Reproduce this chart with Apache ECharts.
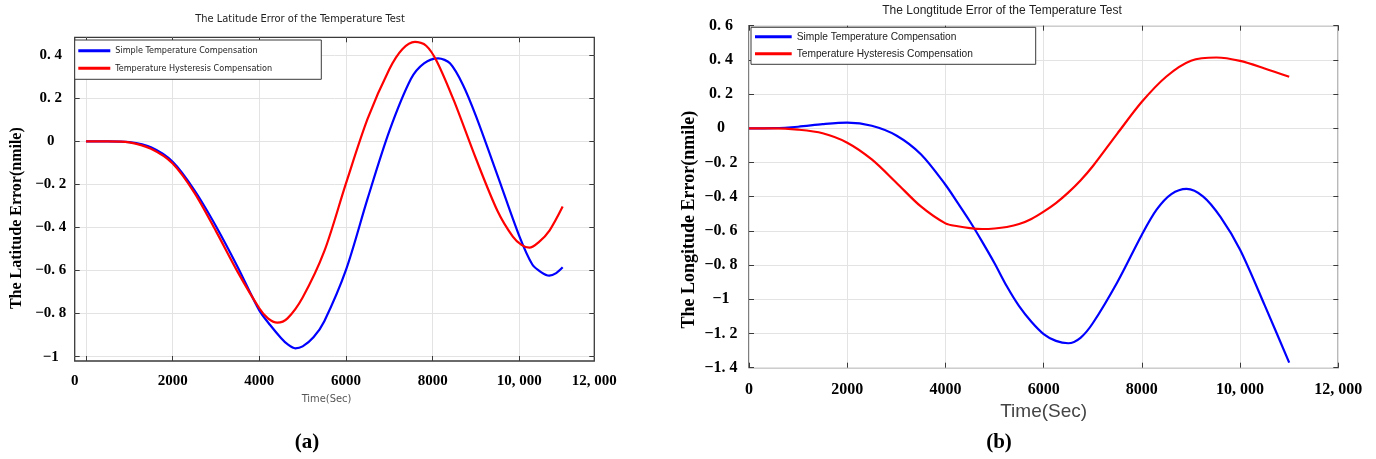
<!DOCTYPE html>
<html>
<head>
<meta charset="utf-8">
<title>Temperature Test Errors</title>
<script src="https://cdn.jsdelivr.net/npm/echarts@6/dist/echarts.min.js"></script>
<style>
html, body { margin: 0; padding: 0; background: #fff; }
#chart { width: 1376px; height: 459px; }
</style>
</head>
<body>
<div id="chart"></div>
<script>
// series names
const nameSimple = 'Simple Temperature Compensation';
const nameHyst = 'Temperature Hysteresis Compensation';

// (a) latitude error
const timeLatSimple = [0, 500, 1000, 1500, 2000, 2500, 3000, 3500, 4000, 4250, 4500, 4650, 4830, 5000, 5250, 5500,
  6000, 6500, 7000, 7500, 7800, 8130, 8400, 8700, 9000, 9500, 10000, 10300, 10500, 10690, 10850, 11000];
const latSimple = [0, 0, -0.004, -0.028, -0.095, -0.226, -0.394, -0.583, -0.785, -0.853, -0.913, -0.942, -0.961, -0.952, -0.91, -0.835,
  -0.597, -0.265, 0.047, 0.29, 0.362, 0.385, 0.362, 0.262, 0.117, -0.16, -0.44, -0.572, -0.607, -0.624, -0.612, -0.585];
const timeLatHyst = [0, 500, 1000, 1500, 2000, 2500, 3000, 3500, 4000, 4200, 4415, 4650, 5000, 5500, 6000,
  6500, 7000, 7300, 7590, 7850, 8100, 8500, 9000, 9500, 9850, 10050, 10230, 10450, 10700, 11000];
const latHyst = [0, 0, -0.005, -0.035, -0.103, -0.238, -0.417, -0.606, -0.775, -0.822, -0.842, -0.822, -0.725, -0.51, -0.195,
  0.105, 0.335, 0.428, 0.462, 0.444, 0.37, 0.184, -0.081, -0.325, -0.443, -0.481, -0.494, -0.468, -0.413, -0.303];

// (b) longitude error
const timeLonSimple = [0, 500, 1000, 1500, 2000, 2500, 3000, 3500, 4000, 4250, 4500, 4750, 5000, 5250, 5500, 5750,
  6000, 6250, 6500, 6750, 7000, 7500, 8000, 8300, 8600, 8910, 9250, 9600, 10000, 10500, 11000];
const lonSimple = [0, 0.001, 0.009, 0.024, 0.033, 0.015, -0.042, -0.152, -0.33, -0.436, -0.545, -0.664, -0.789, -0.924, -1.04, -1.131,
  -1.203, -1.243, -1.257, -1.225, -1.14, -0.9, -0.622, -0.476, -0.385, -0.354, -0.399, -0.518, -0.71, -1.034, -1.37];
const timeLonHyst = [0, 500, 1000, 1500, 2000, 2500, 3000, 3500, 4000, 4250, 4500, 4750, 5000, 5250, 5500, 5750,
  6000, 6250, 6500, 6750, 7000, 7500, 8000, 8500, 9000, 9520, 10000, 10500, 11000];
const lonHyst = [0, 0, -0.008, -0.029, -0.084, -0.182, -0.318, -0.457, -0.556, -0.573, -0.584, -0.589, -0.586, -0.577, -0.56, -0.53,
  -0.487, -0.437, -0.376, -0.305, -0.222, -0.031, 0.155, 0.303, 0.395, 0.414, 0.394, 0.35, 0.301];

// ticks
const xTicks = [0, 2000, 4000, 6000, 8000, 10000, 12000];
const yTicksA = [-1, -0.8, -0.6, -0.4, -0.2, 0, 0.2, 0.4];
const yTicksB = [-1.4, -1.2, -1, -0.8, -0.6, -0.4, -0.2, 0, 0.2, 0.4, 0.6];

// axis extents of panel (a) (the figure's axes are a bit off round numbers)
const xMinA = -260, xMaxA = 11730;
const yMinA = -1.02, yMaxA = 0.483;

function zip(xs, ys) {
  return xs.map((x, i) => [x, ys[i]]);
}

function fmtY(v) {
  if (Math.abs(v) < 1e-9) return '0';
  const s = Math.abs(v).toFixed(1).replace(/\.0$/, '').replace('.', '. ');
  return (v < 0 ? '\u2212' : '') + s;
}

function fmtX(v) {
  if (v <= 0) return '0';
  if (v > 11000) v = 12000;
  v = Math.round(v);
  if (v >= 10000) return Math.floor(v / 1000) + ', ' + String(v % 1000).padStart(3, '0');
  return String(v);
}

const narrow = "'Liberation Sans Narrow', 'DejaVu Sans Condensed', 'Liberation Sans', sans-serif";
const serifBold = { fontFamily: 'Liberation Serif', fontWeight: 'bold', color: '#000' };
const boxColor = '#3a3a3a';
const gridColor = '#e3e3e3';

function lineSeries(name, color, idx, data) {
  return {
    name: name,
    type: 'line',
    xAxisIndex: idx,
    yAxisIndex: idx,
    data: data,
    showSymbol: false,
    smooth: 0.3,
    itemStyle: { color: color },
    lineStyle: { color: color, width: 2.2 },
    z: 5
  };
}

function innerTicks(values) {
  return { show: true, inside: true, length: 5, customValues: values, lineStyle: { color: boxColor, width: 1 } };
}

const noLine = { show: false, onZero: false };

let chart = echarts.init(document.getElementById('chart'), null, { renderer: 'canvas' });

chart.setOption({
  animation: false,
  backgroundColor: '#fff',
  title: [
    {
      text: 'The Latitude Error of the Temperature Test',
      left: 300, top: 14, textAlign: 'center', padding: 0,
      textStyle: { fontFamily: narrow, fontSize: 11, fontWeight: 'normal', color: '#222' }
    },
    {
      text: 'The Longtitude Error of the Temperature Test',
      left: 1002, top: 5, textAlign: 'center', padding: 0,
      textStyle: { fontFamily: 'Liberation Sans', fontSize: 12, fontWeight: 'normal', color: '#222' }
    },
    {
      text: '{p|(}{b|a}{p|)}',
      left: 307, top: 432, textAlign: 'center', padding: 0,
      textStyle: {
        rich: {
          p: { fontFamily: 'Liberation Serif', fontSize: 21, color: '#000' },
          b: { fontFamily: 'Liberation Serif', fontSize: 21, fontWeight: 'bold', color: '#000' }
        }
      }
    },
    {
      text: '{p|(}{b|b}{p|)}',
      left: 999, top: 432, textAlign: 'center', padding: 0,
      textStyle: {
        rich: {
          p: { fontFamily: 'Liberation Serif', fontSize: 21, color: '#000' },
          b: { fontFamily: 'Liberation Serif', fontSize: 21, fontWeight: 'bold', color: '#000' }
        }
      }
    }
  ],
  legend: [
    {
      data: [nameSimple, nameHyst],
      orient: 'vertical',
      left: 74.7, top: 40,
      icon: 'rect', itemWidth: 32, itemHeight: 3, itemGap: 5.6,
      padding: [4.7, 6, 5, 3.6],
      backgroundColor: '#fff', borderColor: boxColor, borderWidth: 1,
      selectedMode: false,
      textStyle: { fontFamily: narrow, fontSize: 9, color: '#222', lineHeight: 12, width: 200 }
    },
    {
      data: [nameSimple, nameHyst],
      orient: 'vertical',
      left: 751, top: 27.3,
      icon: 'rect', itemWidth: 36.7, itemHeight: 3, itemGap: 5,
      padding: [3.4, 4, 4.6, 4],
      backgroundColor: '#fff', borderColor: boxColor, borderWidth: 1,
      selectedMode: false,
      textStyle: { fontFamily: 'Liberation Sans', fontSize: 10.2, color: '#222', lineHeight: 12, width: 235 }
    }
  ],
  grid: [
    { left: 74.7, top: 37.3, width: 519.6, height: 323.7, show: true, borderColor: boxColor, borderWidth: 1.3, backgroundColor: '#fff' },
    { left: 749, top: 25.7, width: 589.3, height: 342, show: true, borderColor: boxColor, borderWidth: 1.3, backgroundColor: '#fff' }
  ],
  xAxis: [
    {
      gridIndex: 0, type: 'value', min: xMinA, max: xMaxA,
      name: 'Time(Sec)', nameLocation: 'middle', nameGap: 31,
      nameTextStyle: { fontFamily: narrow, fontSize: 11, color: '#555', padding: [0, 16, 0, 0] },
      axisLine: noLine,
      axisTick: innerTicks(xTicks.slice(0, 6)),
      splitLine: { show: true, lineStyle: { color: gridColor, width: 1 } },
      axisLabel: {
        customValues: [xMinA + 1, 2000, 4000, 6000, 8000, 10000, xMaxA - 1],
        formatter: fmtX, margin: 13,
        ...serifBold, fontSize: 15
      }
    },
    {
      gridIndex: 0, type: 'value', position: 'top', min: xMinA, max: xMaxA,
      axisLine: noLine, axisTick: innerTicks(xTicks.slice(0, 6)),
      axisLabel: { show: false }, splitLine: { show: false }
    },
    {
      gridIndex: 1, type: 'value', min: 0, max: 12000,
      name: 'Time(Sec)', nameLocation: 'middle', nameGap: 33,
      nameTextStyle: { fontFamily: 'Liberation Sans', fontSize: 19, color: '#444' },
      axisLine: noLine,
      axisTick: innerTicks(xTicks),
      splitLine: { show: true, lineStyle: { color: gridColor, width: 1 } },
      axisLabel: { customValues: xTicks, formatter: fmtX, margin: 14, ...serifBold, fontSize: 16 }
    },
    {
      gridIndex: 1, type: 'value', position: 'top', min: 0, max: 12000,
      axisLine: noLine, axisTick: innerTicks(xTicks),
      axisLabel: { show: false }, splitLine: { show: false }
    }
  ],
  yAxis: [
    {
      gridIndex: 0, type: 'value', min: yMinA, max: yMaxA,
      name: 'The Latitude Error(nmile)', nameLocation: 'middle', nameGap: 50,
      nameTextStyle: { ...serifBold, fontSize: 16, padding: [0, 38, 0, 0] },
      axisLine: noLine,
      axisTick: innerTicks(yTicksA),
      splitLine: { show: true, lineStyle: { color: gridColor, width: 1 } },
      axisLabel: { customValues: yTicksA, formatter: fmtY, align: 'center', margin: 24, ...serifBold, fontSize: 15 }
    },
    {
      gridIndex: 0, type: 'value', position: 'right', min: yMinA, max: yMaxA,
      axisLine: noLine, axisTick: innerTicks(yTicksA),
      axisLabel: { show: false }, splitLine: { show: false }
    },
    {
      gridIndex: 1, type: 'value', min: -1.4, max: 0.6,
      name: 'The Longitude Error(nmile)', nameLocation: 'middle', nameGap: 51,
      nameTextStyle: { ...serifBold, fontSize: 18, padding: [0, 46, 0, 0] },
      axisLine: noLine,
      axisTick: innerTicks(yTicksB),
      splitLine: { show: true, lineStyle: { color: gridColor, width: 1 } },
      axisLabel: { customValues: yTicksB, formatter: fmtY, align: 'center', margin: 28, ...serifBold, fontSize: 16 }
    },
    {
      gridIndex: 1, type: 'value', position: 'right', min: -1.4, max: 0.6,
      axisLine: noLine, axisTick: innerTicks(yTicksB),
      axisLabel: { show: false }, splitLine: { show: false }
    }
  ],
  series: [
    lineSeries(nameSimple, '#0000ff', 0, zip(timeLatSimple, latSimple)),
    lineSeries(nameHyst, '#ff0000', 0, zip(timeLatHyst, latHyst)),
    { ...lineSeries(nameSimple, '#0000ff', 2, zip(timeLonSimple, lonSimple)), yAxisIndex: 2 },
    { ...lineSeries(nameHyst, '#ff0000', 2, zip(timeLonHyst, lonHyst)), yAxisIndex: 2 }
  ]
});
</script>
</body>
</html>
